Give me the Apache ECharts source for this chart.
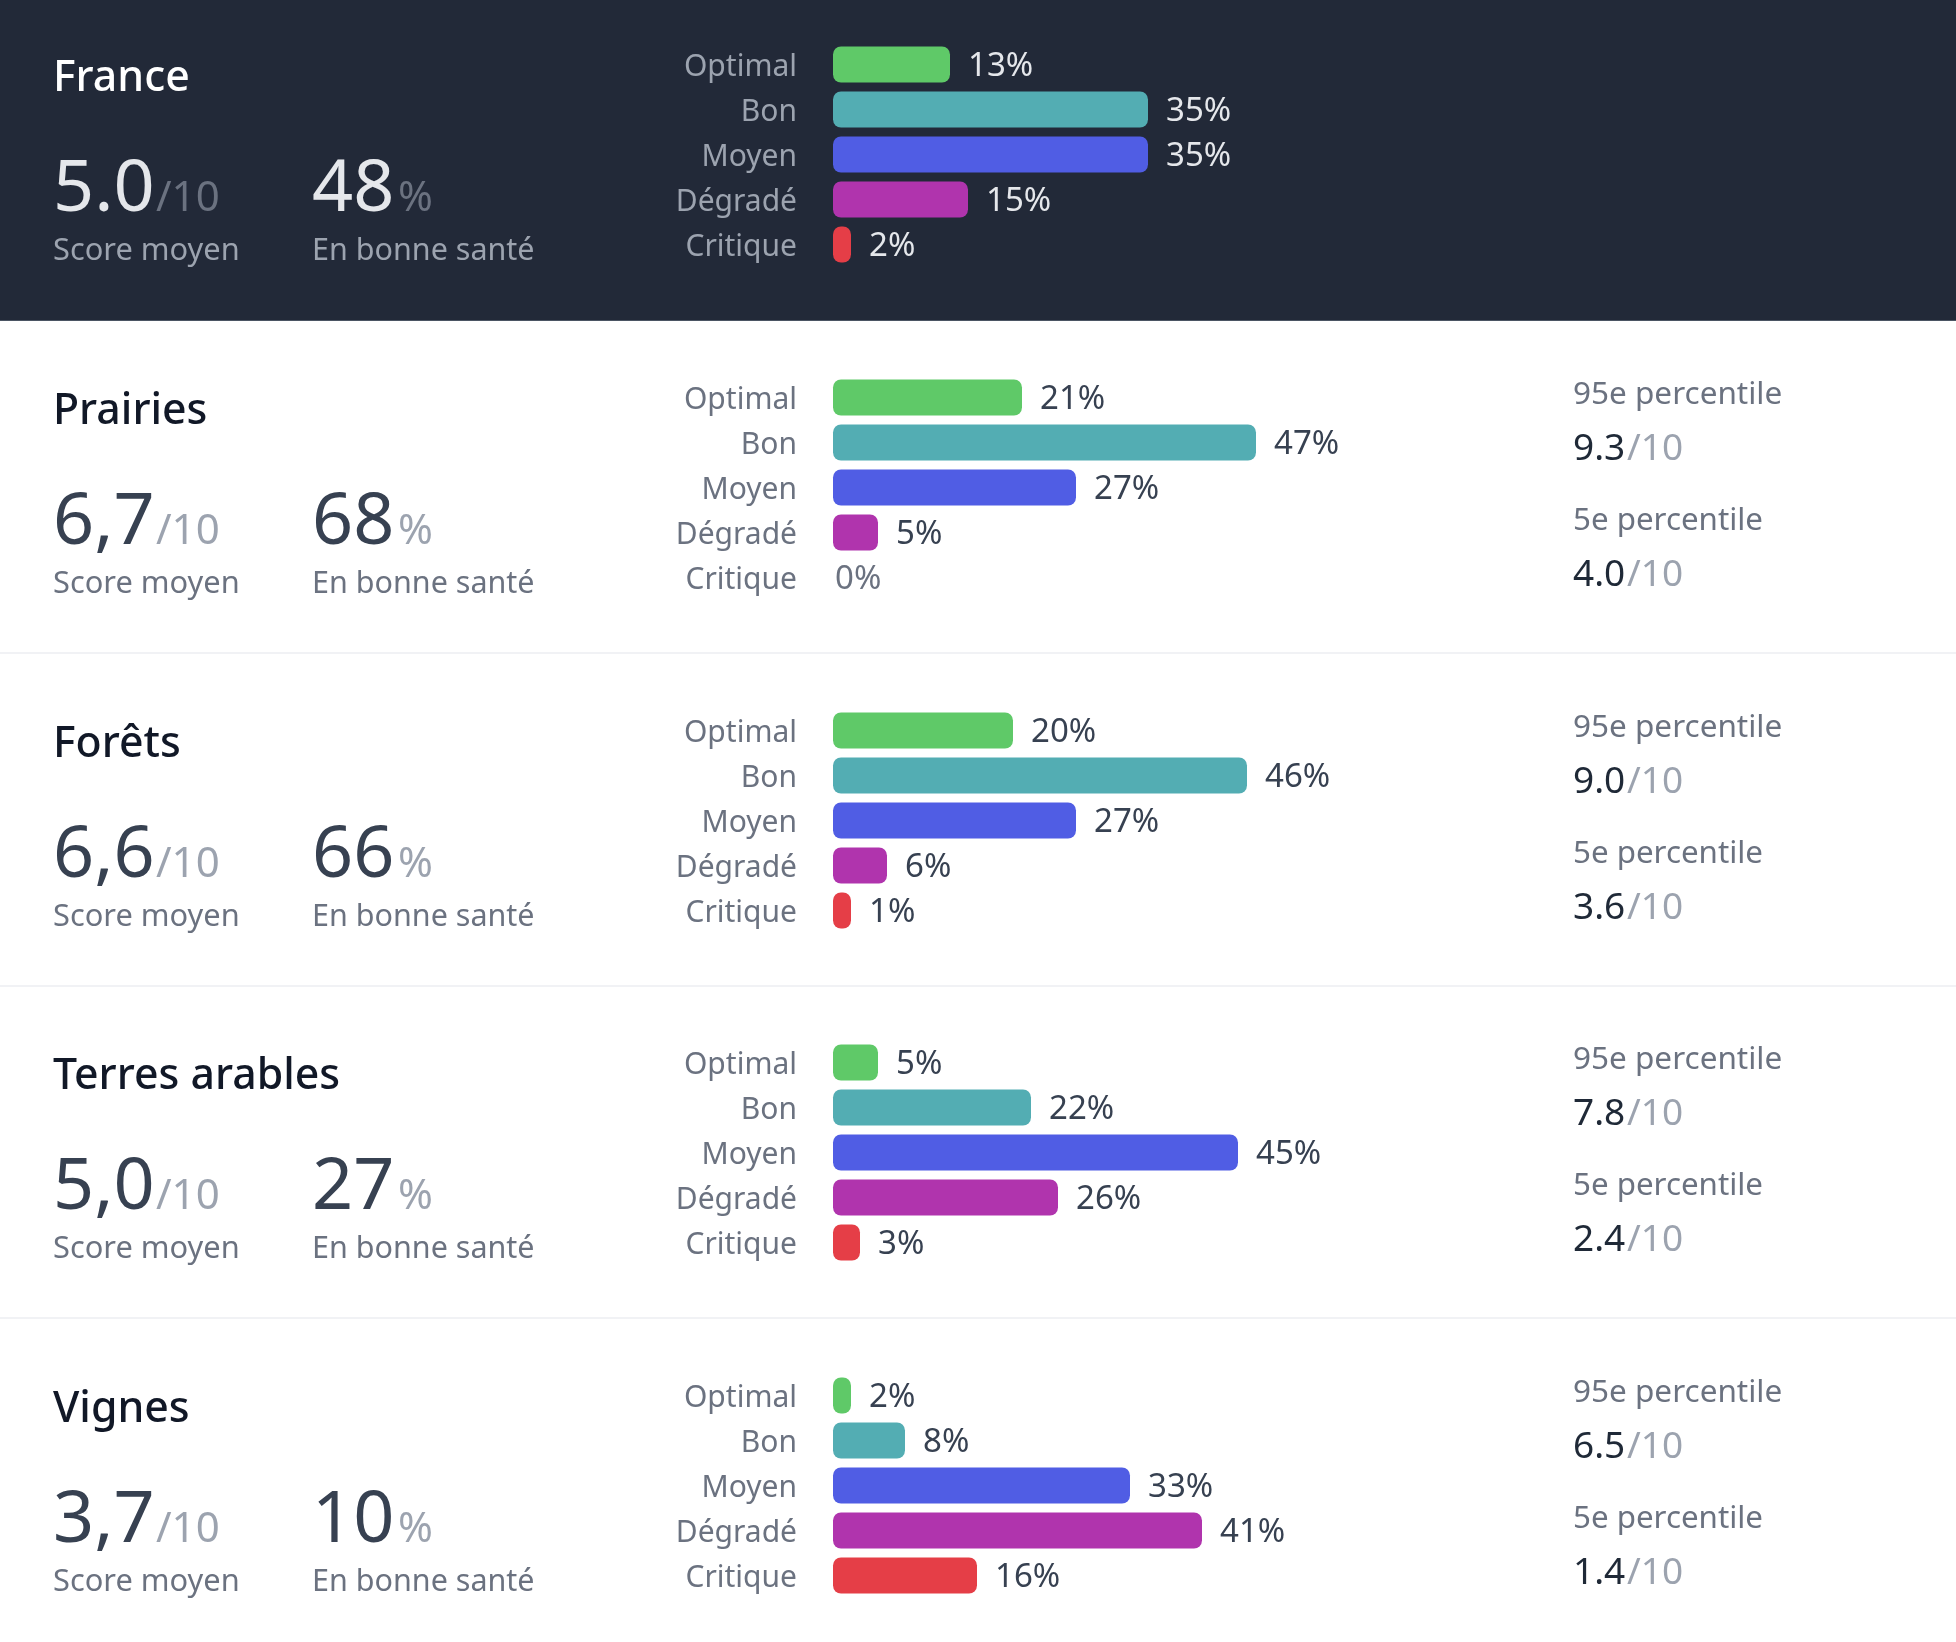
<!DOCTYPE html>
<html>
<head>
<meta charset="utf-8">
<title>Score par occupation du sol</title>
<script src="https://cdn.jsdelivr.net/npm/echarts@6/dist/echarts.min.js"></script>
<style>
html, body { margin: 0; padding: 0; background: #fff; }
#main { width: 1956px; height: 1642px; }
</style>
</head>
<body>
<div id="main"></div>
<script>
// donnees
var statuts = ['Optimal', 'Bon', 'Moyen', 'Dégradé', 'Critique'];
var zones = ['France', 'Prairies', 'Forêts', 'Terres arables', 'Vignes'];
var scores = ['5.0', '6,7', '6,6', '5,0', '3,7'];
var sante = ['48', '68', '66', '27', '10'];
var p95 = [null, '9.3', '9.0', '7.8', '6.5'];
var p5 = [null, '4.0', '3.6', '2.4', '1.4'];

var partsFrance = [13, 35, 35, 15, 2];
var partsPrairies = [21, 47, 27, 5, 0];
var partsForets = [20, 46, 27, 6, 1];
var partsTerres = [5, 22, 45, 26, 3];
var partsVignes = [2, 8, 33, 41, 16];
var parts = [partsFrance, partsPrairies, partsForets, partsTerres, partsVignes];

// sur l'image la barre Degrade de Terres arables s'arrete a 25 alors que l'etiquette dit 26%
var barresTerres = [5, 22, 45, 25, 3];
var barres = [partsFrance, partsPrairies, partsForets, barresTerres, partsVignes];

var couleurs = ['#5fc968', '#53adb3', '#505de4', '#b034ad', '#e53e47'];

var FONT = '"Noto Sans", sans-serif';
var PAS = 332.75;
var BARRE_MIN = 18;

var myChart = echarts.init(document.getElementById('main'), null, { renderer: 'canvas' });

// texte place sur sa ligne de base
function texte(x, base, txt, size, color, weight) {
	return {
		type: 'text',
		z: 5,
		x: x,
		y: base - size * 0.29,
		style: {
			text: txt,
			fill: color,
			font: (weight || 400) + ' ' + size + 'px ' + FONT,
			textAlign: 'left',
			verticalAlign: 'middle'
		}
	};
}

var grids = [], xAxes = [], yAxes = [], series = [], elements = [];

elements.push({ type: 'rect', z: -1, shape: { x: 0, y: 0, width: 1956, height: 320 }, style: { fill: '#222938' } });
elements.push({ type: 'rect', z: -1, shape: { x: 0, y: 320, width: 1956, height: 1 }, style: { fill: '#4b5563' } });
[652, 985, 1317].forEach(function(y) {
	elements.push({ type: 'rect', z: -1, shape: { x: 0, y: y, width: 1956, height: 2 }, style: { fill: '#f1f2f5' } });
});

zones.forEach(function(zone, i) {
	var top = Math.round(PAS * i);
	var sombre = i === 0;

	grids.push({ left: 833, top: top + 42, width: 900, height: 225 });
	xAxes.push({ type: 'value', gridIndex: i, min: 0, max: 100, show: false });
	yAxes.push({
		type: 'category',
		gridIndex: i,
		inverse: true,
		data: statuts,
		axisLine: { show: false },
		axisTick: { show: false },
		axisLabel: {
			margin: 36,
			verticalAlign: 'top',
			lineHeight: 5,
			fontFamily: FONT,
			fontSize: 30,
			color: sombre ? '#9ca3af' : '#6b7280'
		}
	});
	series.push({
		type: 'bar',
		xAxisIndex: i,
		yAxisIndex: i,
		barWidth: 36,
		barMinHeight: BARRE_MIN,
		silent: true,
		animation: false,
		itemStyle: { borderRadius: 8 },
		label: {
			show: true,
			position: 'right',
			distance: 18,
			offset: [0, 2],
			fontFamily: FONT,
			fontSize: 33,
			color: sombre ? '#e5e7eb' : '#374151',
			formatter: function(p) {
				return parts[i][p.dataIndex] + '%';
			}
		},
		data: barres[i].map(function(v, j) {
			// 0 % : pas de barre, l'etiquette revient au debut de l'axe
			if (v === 0) {
				return {
					value: v,
					itemStyle: { color: 'transparent' },
					label: { distance: 2, offset: [-BARRE_MIN, 2], color: '#6b7280' }
				};
			}
			return { value: v, itemStyle: { color: couleurs[j] } };
		})
	});

	var cTitre = sombre ? '#ffffff' : '#111827';
	var cScore = sombre ? '#e5e7eb' : '#374151';
	var cUnite = sombre ? '#6b7280' : '#9ca3af';
	var cLabel = sombre ? '#9ca3af' : '#6b7280';

	elements.push(texte(53, top + 91, zone, 42.8, cTitre, 500));
	elements.push(texte(53, top + 211, scores[i], 72, cScore, 400));
	elements.push(texte(156, top + 211, '/10', 42, cUnite, 400));
	elements.push(texte(312, top + 211, sante[i], 72, cScore, 400));
	elements.push(texte(398, top + 211, '%', 42, cUnite, 400));
	elements.push(texte(53, top + 260, 'Score moyen', 30.8, cLabel, 400));
	elements.push(texte(312, top + 260, 'En bonne santé', 30.5, cLabel, 400));

	if (p95[i] !== null) {
		elements.push(texte(1573, top + 71, '95e percentile', 31.5, '#6b7280', 400));
		elements.push(texte(1573, top + 127, p95[i], 37, '#1f2937', 400));
		elements.push(texte(1627, top + 127, '/10', 37, '#9ca3af', 400));
		elements.push(texte(1573, top + 197, '5e percentile', 31.3, '#6b7280', 400));
		elements.push(texte(1573, top + 253, p5[i], 37, '#1f2937', 400));
		elements.push(texte(1627, top + 253, '/10', 37, '#9ca3af', 400));
	}
});

myChart.setOption({
	animation: false,
	backgroundColor: '#ffffff',
	grid: grids,
	xAxis: xAxes,
	yAxis: yAxes,
	series: series,
	graphic: { elements: elements }
});
</script>
</body>
</html>
